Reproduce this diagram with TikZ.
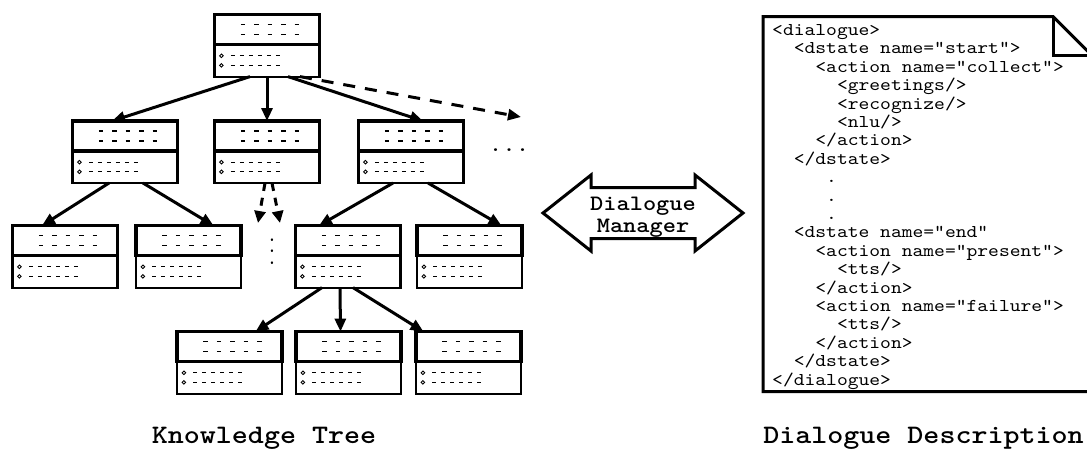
\documentclass[tikz,border=0pt]{standalone}
\usepackage{fontspec}
\newfontfamily\cour[FakeStretch=1.143]{lmmono10-regular.otf}
\newfontfamily\courb[FakeStretch=1.143]{lmmonolt10-bold.otf}
\usetikzlibrary{arrows.meta}
\newcommand\ind[1]{\kern#1em\relax}
\newcommand\docf{\cour\fontsize{18}{18.4}\selectfont}
\newcommand\dmf{\courb\fontsize{22}{22.7}\selectfont}
\newcommand\labf{\courb\fontsize{26.7}{28}\selectfont}
\tikzset{
  kup/.style={draw, line width=3.2pt, fill=white, minimum width=105pt, minimum height=30pt,
    inner sep=0pt, outer sep=0pt,
    path picture={
      \draw[line width=1.3pt, dash pattern=on 4.5pt off 8.9pt]
        ([xshift=-26.1pt,yshift=5pt]path picture bounding box.center) -- ++(58.1pt,0pt);
      \draw[line width=1.3pt, dash pattern=on 4.5pt off 8.9pt]
        ([xshift=-26.1pt,yshift=-5pt]path picture bounding box.center) -- ++(58.1pt,0pt);
    }},
  klow/.style={draw, line width=2.2pt, fill=white, minimum width=105pt, minimum height=32pt,
    inner sep=0pt, outer sep=0pt,
    path picture={
      \draw[line width=0.9pt] ([xshift=-45.6pt,yshift=4.8pt]path picture bounding box.center) circle[radius=1.8pt];
      \draw[line width=0.9pt] ([xshift=-45.6pt,yshift=-4.8pt]path picture bounding box.center) circle[radius=1.8pt];
      \draw[line width=1.3pt, dash pattern=on 3.6pt off 5.4pt]
        ([xshift=-36.1pt,yshift=4.8pt]path picture bounding box.center) -- ++(48.6pt,0pt);
      \draw[line width=1.3pt, dash pattern=on 3.6pt off 5.4pt]
        ([xshift=-36.1pt,yshift=-4.8pt]path picture bounding box.center) -- ++(48.6pt,0pt);
    }},
  arr/.style={line width=3pt, -{Triangle[length=13pt,width=11pt]}},
  darr/.style={line width=3pt, dash pattern=on 12pt off 10pt, -{Triangle[length=13pt,width=11pt]}},
  sdarr/.style={line width=3pt, dash pattern=on 8pt off 7pt, -{Triangle[length=12pt,width=11pt]}},
  thickline/.style={line width=3pt},
}
\newcommand\kbox[3]{%
  \node[klow,anchor=north] (#1l) at (#2,#3+30) {};
  \node[kup,anchor=north] (#1) at (#2,#3) {};}
\begin{document}
\begin{tikzpicture}[x=1pt,y=-1pt]
\useasboundingbox (0,0) rectangle (1087,450);
\clip (0,0) rectangle (1087,450);

% ---------- knowledge tree ----------
\kbox{root}{267}{14.6}
\kbox{A}{125}{121}
\kbox{B}{267}{121}
\kbox{C}{411}{121}
\kbox{D}{65}{225.6}
\kbox{E}{188.5}{225.6}
\kbox{F}{348}{225.6}
\kbox{G}{469.5}{225.6}
\kbox{H}{229.5}{331.6}
\kbox{I}{348.5}{331.6}
\kbox{J}{468.5}{331.6}

\draw[arr] ([xshift=-17pt]rootl.south) -- ([xshift=-13pt]A.north);
\draw[arr] (rootl.south) -- (B.north);
\draw[arr] ([xshift=21pt]rootl.south) -- ([xshift=12pt]C.north);
\coordinate (more) at (521,117);
\draw[darr] ([xshift=33pt]rootl.south) -- (more);
\node[font=\cour\fontsize{22.5}{24}\selectfont, anchor=base, inner sep=0pt] (dotsr) at (509,151.5) {...};

\draw[arr] ([xshift=-16pt]Al.south) -- ([xshift=-23pt]D.north);
\draw[arr] ([xshift=18pt]Al.south) -- ([xshift=25pt]E.north);

\coordinate (bd1) at (258,223);
\coordinate (bd2) at (280,223);
\draw[sdarr] ([xshift=-2pt]Bl.south) -- (bd1);
\draw[sdarr] ([xshift=5pt]Bl.south) -- (bd2);
\node[font=\cour\fontsize{19}{20}\selectfont, anchor=base, inner sep=0pt, rotate=-90] (dotsv) at (270.8,251.5) {...};

\draw[arr] ([xshift=-18pt]Cl.south) -- ([xshift=-29pt]F.north);
\draw[arr] ([xshift=17pt]Cl.south) -- ([xshift=32pt]G.north);

\draw[arr] ([xshift=-26pt]Fl.south) -- ([xshift=26pt]H.north);
\draw[arr] ([xshift=-8pt]Fl.south) -- ([xshift=-8pt]I.north);
\draw[arr] ([xshift=5pt]Fl.south) -- ([xshift=-45pt]J.north);

% ---------- dialogue manager ----------
\coordinate (dmc) at (643,213);
\draw[thickline, shift={(dmc)}] (-100,0) -- (-52,-38) -- (-52,-25.5) -- (52,-25.5) -- (52,-38)
  -- (100,0) -- (52,38) -- (52,25.5) -- (-52,25.5) -- (-52,38) -- cycle;
\node[font=\dmf, anchor=base, inner sep=0pt] (dm) at (643,210)
  {\vtop{\baselineskip=22.7pt\hbox{Dialogue}\hbox{\kern0.3em Manager}}};

% ---------- dialogue description ----------
\draw[thickline] (1053,16.5) -- (763,16.5) -- (763,391.5) -- (1091.5,391.5) -- (1091.5,55) -- cycle;
\draw[thickline] (1053,16.5) -- (1053,55) -- (1091.5,55);
\node[font=\docf, anchor=base west, inner sep=0pt] (code) at (772,35.5) {\vtop{\baselineskip=18.4pt
\hbox{<dialogue>}
\hbox{\ind{1.2}<dstate name="start">}
\hbox{\ind{2.4}<action name="collect">}
\hbox{\ind{3.6}<greetings/>}
\hbox{\ind{3.6}<recognize/>}
\hbox{\ind{3.6}<nlu/>}
\hbox{\ind{2.4}</action>}
\hbox{\ind{1.2}</dstate>}
\hbox{\ind{3.0}.}
\hbox{\ind{3.0}.}
\hbox{\ind{3.0}.}
\hbox{\ind{1.2}<dstate name="end"}
\hbox{\ind{2.4}<action name="present">}
\hbox{\ind{3.6}<tts/>}
\hbox{\ind{2.4}</action>}
\hbox{\ind{2.4}<action name="failure">}
\hbox{\ind{3.6}<tts/>}
\hbox{\ind{2.4}</action>}
\hbox{\ind{1.2}</dstate>}
\hbox{</dialogue>}}};

% ---------- captions ----------
\node[font=\labf, anchor=base, inner sep=0pt] (kt) at (264,443.5) {Knowledge Tree};
\node[font=\labf, anchor=base, inner sep=0pt] (dd) at (923.5,443.5) {Dialogue Description};
\end{tikzpicture}
\end{document}
